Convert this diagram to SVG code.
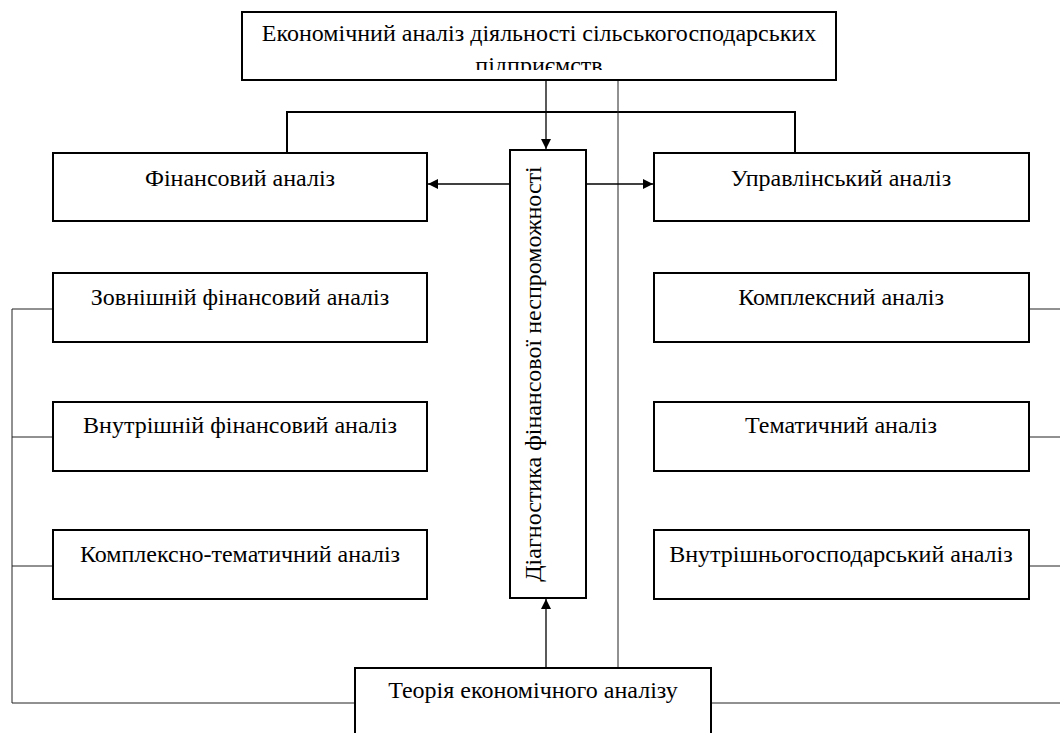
<svg xmlns="http://www.w3.org/2000/svg" width="1060" height="733" viewBox="0 0 1060 733">
<style>
.box{fill:#fff;stroke:#000;stroke-width:2}
.t{font-family:'Liberation Serif','Times New Roman','DejaVu Serif',serif;font-size:24px;fill:#000;text-anchor:middle}
.c{fill:none;stroke:#222;stroke-width:1}
.c2{fill:none;stroke:#000;stroke-width:2}
.ca{fill:none;stroke:#000;stroke-width:1.3}
</style>
<defs>
<marker id="ah" viewBox="0 0 10 10" refX="10" refY="5" markerWidth="10" markerHeight="10" markerUnits="userSpaceOnUse" orient="auto">
<path d="M0,0 L10,5 L0,10 Z" fill="#000"/>
</marker>
<clipPath id="topclip"><rect x="242" y="11" width="594" height="59"/></clipPath>
</defs>
<rect width="1060" height="733" fill="#fff"/>
<g id="connectors">
<path class="c2" d="M287,153 V112 H795 V153"/>
<path class="ca" d="M546,80 V149" marker-end="url(#ah)"/>
<path class="c" d="M618,80 V668"/>
<path class="ca" d="M510,184 H428" marker-end="url(#ah)"/>
<path class="ca" d="M586,184 H653" marker-end="url(#ah)"/>
<path class="ca" d="M546,668 V599" marker-end="url(#ah)"/>
<path class="c" d="M53,309 H12 V703 H355"/>
<path class="c" d="M12,437 H53"/>
<path class="c" d="M12,566 H53"/>
<path class="c" d="M1029,309 H1060"/>
<path class="c" d="M1029,437 H1060"/>
<path class="c" d="M1029,566 H1060"/>
<path class="c" d="M711,703 H1060"/>
</g>
<g id="n-top">
<rect class="box" x="242" y="12" width="594" height="68"/>
<text class="t" x="539" y="41" font-size="24.5">Економічний аналіз діяльності сільськогосподарських</text>
<text class="t" x="539" y="73" font-size="24.5" clip-path="url(#topclip)">підприємств</text>
</g>
<g id="n-fin">
<rect class="box" x="53" y="153" width="374" height="68"/>
<text class="t" x="240" y="186">Фінансовий аналіз</text>
</g>
<g id="n-upr">
<rect class="box" x="654" y="153" width="375" height="68"/>
<text class="t" x="841" y="186">Управлінський аналіз</text>
</g>
<g id="n-diag">
<rect class="box" x="510" y="150" width="76" height="448"/>
<text class="t" transform="translate(541,374) rotate(-90)" font-size="25">Діагностика фінансової неспроможності</text>
</g>
<g id="n-zovn">
<rect class="box" x="53" y="273" width="374" height="69"/>
<text class="t" x="240" y="305">Зовнішній фінансовий аналіз</text>
</g>
<g id="n-vnut">
<rect class="box" x="53" y="402" width="374" height="69"/>
<text class="t" x="240" y="433">Внутрішній фінансовий аналіз</text>
</g>
<g id="n-kt">
<rect class="box" x="53" y="530" width="374" height="69"/>
<text class="t" x="240" y="562">Комплексно-тематичний аналіз</text>
</g>
<g id="n-kompl">
<rect class="box" x="654" y="273" width="375" height="69"/>
<text class="t" x="841" y="305">Комплексний аналіз</text>
</g>
<g id="n-tem">
<rect class="box" x="654" y="402" width="375" height="69"/>
<text class="t" x="841" y="433">Тематичний аналіз</text>
</g>
<g id="n-vg">
<rect class="box" x="654" y="530" width="375" height="69"/>
<text class="t" x="841" y="562">Внутрішньогосподарський аналіз</text>
</g>
<g id="n-teor">
<rect class="box" x="355" y="668" width="356" height="80"/>
<text class="t" x="533" y="698">Теорія економічного аналізу</text>
</g>
</svg>
